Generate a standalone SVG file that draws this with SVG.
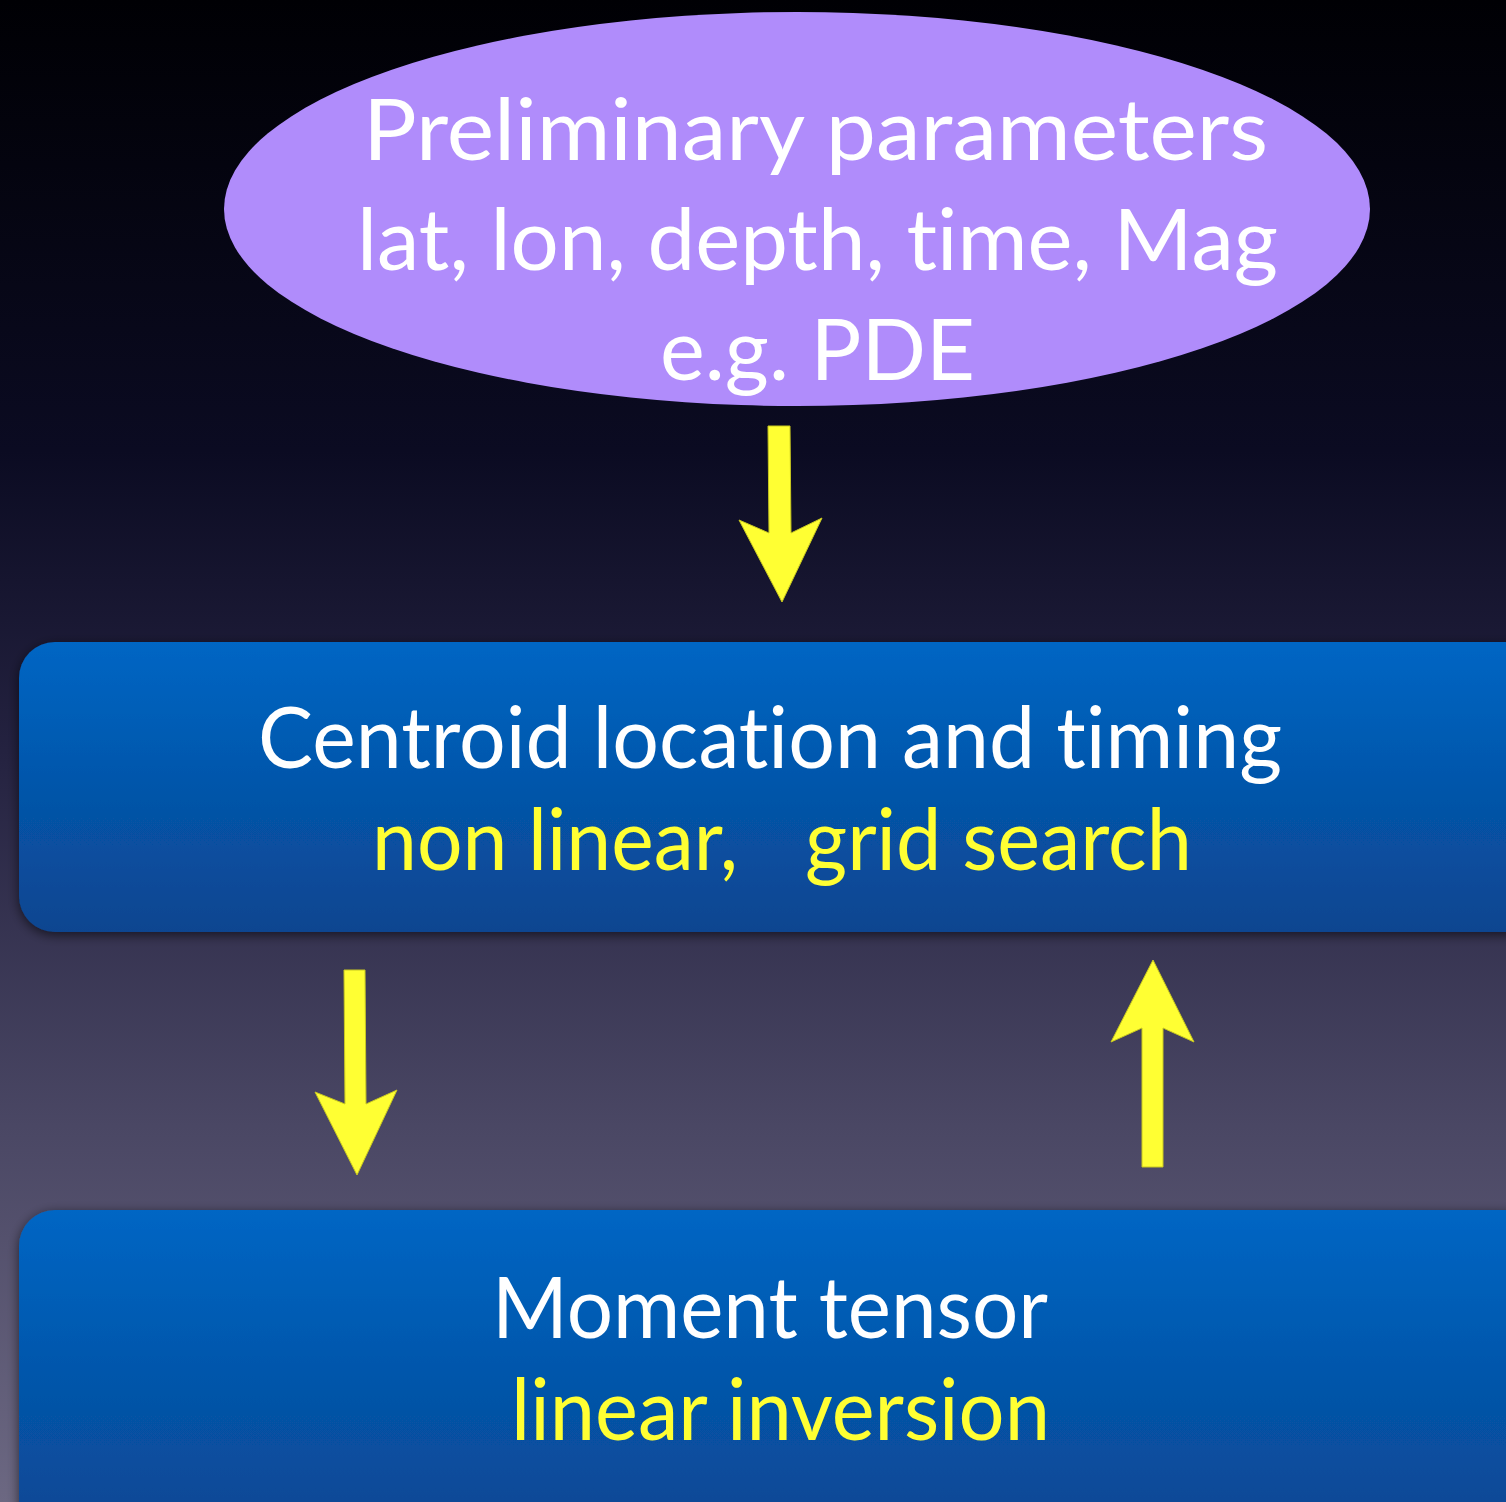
<svg xmlns="http://www.w3.org/2000/svg" width="1506" height="1502" viewBox="0 0 1506 1502">
<defs>
<linearGradient id="bg" x1="0" y1="0" x2="0" y2="1">
<stop offset="0" stop-color="#000004"/>
<stop offset="0.3" stop-color="#0b0b22"/>
<stop offset="0.5" stop-color="#242240"/>
<stop offset="0.75" stop-color="#4a4764"/>
<stop offset="1" stop-color="#6c6882"/>
</linearGradient>
<linearGradient id="box" x1="0" y1="0" x2="0" y2="1">
<stop offset="0" stop-color="#0066c4"/>
<stop offset="1" stop-color="#0a4590"/>
</linearGradient>
<filter id="sh" x="-5%" y="-20%" width="110%" height="140%">
<feGaussianBlur in="SourceAlpha" stdDeviation="6"/>
<feOffset dy="3"/>
<feComponentTransfer><feFuncA type="linear" slope="0.6"/></feComponentTransfer>
<feMerge><feMergeNode/><feMergeNode in="SourceGraphic"/></feMerge>
</filter>
<style>
text{font-family:"Gill Sans","Lato","Open Sans","DejaVu Sans",sans-serif;font-size:86px;text-anchor:start;font-variant-ligatures:none;font-feature-settings:"liga" 0,"clig" 0}
.w{fill:#ffffff}
.y{fill:#ffff33}
.arr{fill:#ffff33;stroke:#c8c820;stroke-width:1}
</style>
</defs>
<rect width="1506" height="1502" fill="url(#bg)"/>
<g id="node-preliminary">
<ellipse cx="797" cy="209" rx="573" ry="197" fill="#b08cfb"/>
<text class="w" x="363" y="160" textLength="905" lengthAdjust="spacingAndGlyphs">Preliminary parameters</text>
<text class="w" x="357" y="270" textLength="921" lengthAdjust="spacingAndGlyphs">lat, lon, depth, time, Mag</text>
<text class="w" x="660" y="380" textLength="315" lengthAdjust="spacingAndGlyphs">e.g. PDE</text>
</g>
<g id="node-centroid">
<rect x="19" y="642" width="1522" height="290" rx="36" fill="url(#box)" filter="url(#sh)"/>
<text class="w" x="258" y="768" textLength="1024" lengthAdjust="spacingAndGlyphs">Centroid location and timing</text>
<text class="y" x="372" y="870" textLength="366" lengthAdjust="spacingAndGlyphs">non linear,</text>
<text class="y" x="805" y="870" textLength="387" lengthAdjust="spacingAndGlyphs">grid search</text>
</g>
<g id="node-moment">
<rect x="19" y="1210" width="1522" height="340" rx="36" fill="url(#box)" filter="url(#sh)"/>
<text class="w" x="492" y="1338" textLength="556" lengthAdjust="spacingAndGlyphs">Moment tensor</text>
<text class="y" x="511" y="1440" textLength="539" lengthAdjust="spacingAndGlyphs">linear inversion</text>
</g>
<g id="connectors">
<polygon class="arr" points="768,426 790,426 791,533 822,518 782,602 739,520 769,533"/>
<polygon class="arr" points="344,970 365,970 366,1104 397,1090 357,1175 315,1092 345,1104"/>
<polygon class="arr" points="1142,1167 1163,1167 1163,1028 1194,1042 1153,960 1111,1042 1142,1028"/>
</g>
</svg>
